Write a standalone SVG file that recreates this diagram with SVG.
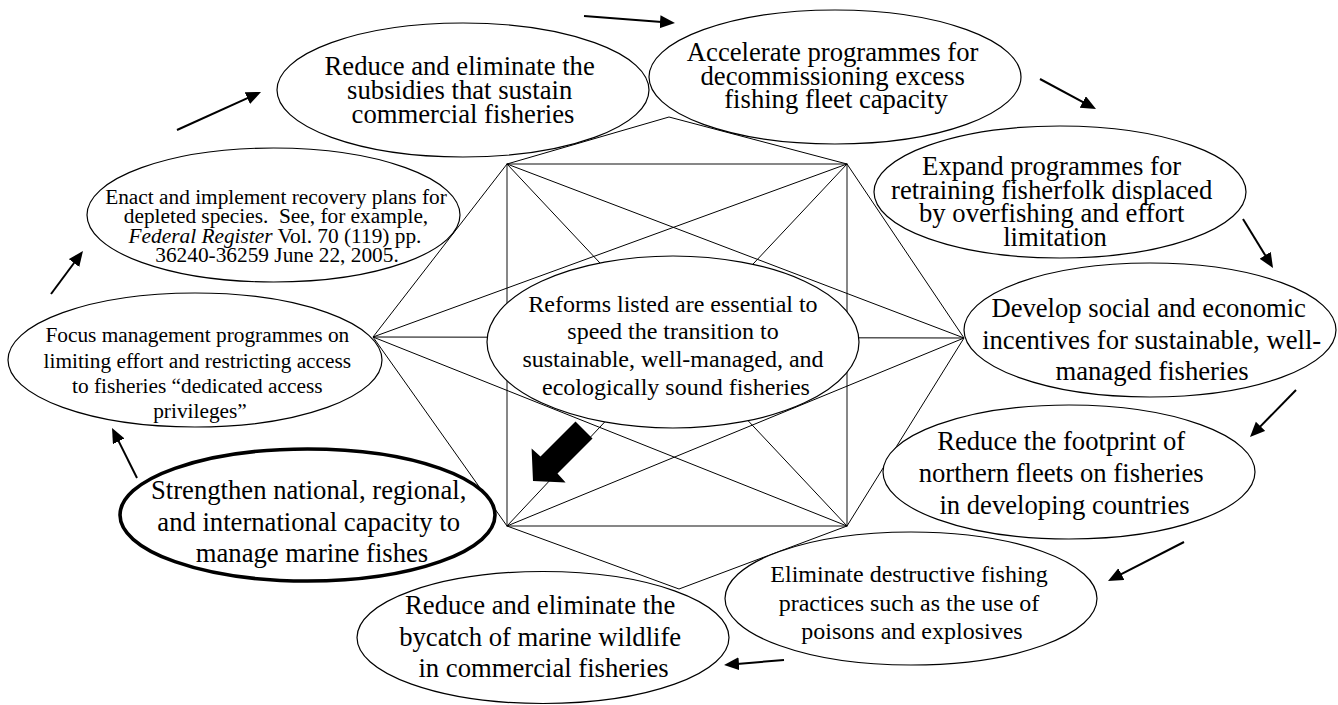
<svg xmlns="http://www.w3.org/2000/svg" width="1338" height="705" viewBox="0 0 1338 705">
  <style>
    .node { fill: #ffffff; stroke: #000000; stroke-width: 1.2; }
    .thick { stroke-width: 3.6; }
    .t { font-family: "Liberation Serif", "Times New Roman", serif; fill: #000000; text-anchor: middle; }
    .big { font-size: 26.67px; }
    .mid { font-size: 24px; }
    .small { font-size: 21.33px; }
    .frame { stroke: #000000; stroke-width: 1; fill: none; }
    .box { stroke: #555555; stroke-width: 1.4; fill: none; }
    .flow { stroke: #000000; stroke-width: 2; fill: none; marker-end: url(#head); }
  </style>
  <defs>
    <marker id="head" markerUnits="userSpaceOnUse" markerWidth="16" markerHeight="14" refX="5" refY="6.5" orient="auto">
      <path d="M0,0 L15,6.5 L0,13 Z" fill="#000000"/>
    </marker>
  </defs>

  <rect width="1338" height="705" fill="#ffffff"/>

  <g id="connectors">
    <!-- central frame: square, hexagon outline and cross lines -->
    <g id="frame">
      <rect class="box" x="507" y="164" width="340" height="362"/>
      <polyline class="frame" points="507,164 669,117 847,164"/>
      <polyline class="frame" points="507,164 373,337 507,526"/>
      <polyline class="frame" points="847,164 964,338 847,526"/>
      <polyline class="frame" points="507,526 679,589 847,526"/>
      <line class="frame" x1="373" y1="337" x2="964" y2="338"/>
      <line class="frame" x1="507" y1="164" x2="964" y2="338"/>
      <line class="frame" x1="847" y1="164" x2="373" y2="337"/>
      <line class="frame" x1="507" y1="526" x2="964" y2="338"/>
      <line class="frame" x1="847" y1="526" x2="373" y2="337"/>
      <line class="frame" x1="507" y1="164" x2="847" y2="526"/>
      <line class="frame" x1="847" y1="164" x2="507" y2="526"/>
    </g>
    <!-- cycle arrows between the reforms -->
    <g id="cycle">
      <line class="flow" x1="137" y1="478" x2="116.5" y2="436.9"/>
      <line class="flow" x1="51" y1="294" x2="77" y2="259"/>
      <line class="flow" x1="177" y1="130" x2="251.9" y2="96.1"/>
      <line class="flow" x1="584" y1="16" x2="665" y2="22.2"/>
      <line class="flow" x1="1040" y1="79" x2="1087.2" y2="104.3"/>
      <line class="flow" x1="1243" y1="219" x2="1267.8" y2="259.5"/>
      <line class="flow" x1="1296" y1="390" x2="1257" y2="429.9"/>
      <line class="flow" x1="1184" y1="542" x2="1116.9" y2="576.4"/>
      <line class="flow" x1="784" y1="660" x2="734" y2="664.2"/>
    </g>
  </g>

  <g id="center">
    <ellipse class="node" cx="673" cy="342" rx="186" ry="86"/>
    <text class="t mid">
      <tspan x="676" y="311.5">Reforms listed are essential to</tspan>
      <tspan x="676" y="339">speed the transition to</tspan>
      <tspan x="676" y="367">sustainable, well-managed, and</tspan>
      <tspan x="676" y="395">ecologically sound fisheries</tspan>
    </text>
  </g>

  <g id="block-arrow">
    <polygon points="575.5,421.5 592.5,438.5 557.5,473.5 565.6,482.4 533,481 531.6,448.4 540.5,456.5" fill="#000000"/>
  </g>

  <g id="subsidies">
    <ellipse class="node" cx="463" cy="90" rx="186" ry="67"/>
    <text class="t big">
      <tspan x="463" y="75">Reduce and eliminate the</tspan>
      <tspan x="463" y="99">subsidies that sustain</tspan>
      <tspan x="463" y="123">commercial fisheries</tspan>
    </text>
  </g>

  <g id="decommissioning">
    <ellipse class="node" cx="835" cy="77" rx="186" ry="67"/>
    <text class="t big">
      <tspan x="836" y="61">Accelerate programmes for</tspan>
      <tspan x="836" y="84.5">decommissioning excess</tspan>
      <tspan x="836" y="108">fishing fleet capacity</tspan>
    </text>
  </g>

  <g id="retraining">
    <ellipse class="node" cx="1060" cy="192" rx="186" ry="66"/>
    <text class="t big">
      <tspan x="1055" y="175">Expand programmes for</tspan>
      <tspan x="1055" y="198.5">retraining fisherfolk displaced</tspan>
      <tspan x="1055" y="222">by overfishing and effort</tspan>
      <tspan x="1055" y="246">limitation</tspan>
    </text>
  </g>

  <g id="incentives">
    <ellipse class="node" cx="1150" cy="330" rx="186" ry="67"/>
    <text class="t big">
      <tspan x="1152" y="317">Develop social and economic</tspan>
      <tspan x="1155" y="348.5">incentives for sustainable, well-</tspan>
      <tspan x="1152" y="380">managed fisheries</tspan>
    </text>
  </g>

  <g id="footprint">
    <ellipse class="node" cx="1069" cy="472" rx="186" ry="67"/>
    <text class="t big">
      <tspan x="1064.5" y="450">Reduce the footprint of</tspan>
      <tspan x="1064.5" y="482">northern fleets on fisheries</tspan>
      <tspan x="1064.5" y="514">in developing countries</tspan>
    </text>
  </g>

  <g id="destructive">
    <ellipse class="node" cx="911" cy="598.5" rx="186" ry="66.5"/>
    <text class="t mid">
      <tspan x="912" y="582">Eliminate destructive fishing</tspan>
      <tspan x="912" y="610.5">practices such as the use of</tspan>
      <tspan x="912" y="639">poisons and explosives</tspan>
    </text>
  </g>

  <g id="bycatch">
    <ellipse class="node" cx="543" cy="637.5" rx="186" ry="66"/>
    <text class="t big">
      <tspan x="543.5" y="614">Reduce and eliminate the</tspan>
      <tspan x="543.5" y="645.5">bycatch of marine wildlife</tspan>
      <tspan x="543.5" y="677">in commercial fisheries</tspan>
    </text>
  </g>

  <g id="capacity">
    <ellipse class="node thick" cx="307.5" cy="515" rx="187.5" ry="66"/>
    <text class="t big">
      <tspan x="312" y="499">Strengthen national, regional,</tspan>
      <tspan x="312" y="530.5">and international capacity to</tspan>
      <tspan x="312" y="562">manage marine fishes</tspan>
    </text>
  </g>

  <g id="access">
    <ellipse class="node" cx="195" cy="360" rx="187" ry="67"/>
    <text class="t small">
      <tspan x="200" y="342">Focus management programmes on</tspan>
      <tspan x="200" y="367.5">limiting effort and restricting access</tspan>
      <tspan x="200" y="393">to fisheries “dedicated access</tspan>
      <tspan x="200" y="418">privileges”</tspan>
    </text>
  </g>

  <g id="recovery">
    <ellipse class="node" cx="273.5" cy="215" rx="186.5" ry="67"/>
    <text class="t small" xml:space="preserve"><tspan x="276" y="204">Enact and implement recovery plans for</tspan><tspan x="276" y="223.3">depleted species.  See, for example,</tspan><tspan x="275" y="242.6"><tspan font-style="italic">Federal Register</tspan> Vol. 70 (119) pp.</tspan><tspan x="277" y="262">36240-36259 June 22, 2005.</tspan></text>
  </g>
</svg>
